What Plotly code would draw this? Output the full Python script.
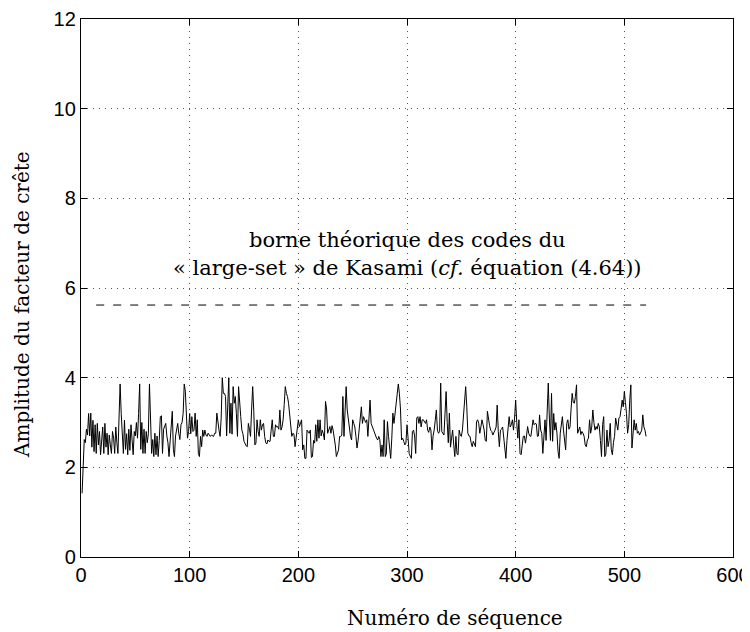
import plotly.graph_objects as go

# crest factor amplitude per sequence number
crest = [
    1.42, 2.05, 2.62, 2.55, 2.85, 2.72, 3.2, 2.7, 3.21, 2.45,
    3.05, 2.35, 2.95, 2.31, 2.98, 2.5, 2.8, 2.28, 2.7, 2.9,
    2.31, 2.98, 2.45, 2.76, 2.28, 2.72, 2.5, 2.31, 2.8, 2.65,
    2.31, 2.9, 2.55, 2.31, 3.1, 3.86, 3.2, 2.65, 2.31, 3.05,
    2.4, 2.75, 2.28, 2.85, 2.38, 2.95, 2.6, 2.28, 2.8, 2.7,
    3.0, 2.65, 3.2, 3.86, 2.4, 3.0, 2.31, 2.85, 2.31, 2.8,
    2.55, 2.75, 3.86, 3.06, 2.31, 2.62, 2.24, 2.76, 2.28, 2.7,
    2.24, 2.6, 3.13, 3.15, 2.31, 2.85, 2.9, 2.98, 2.7, 2.55,
    2.24, 2.6, 2.85, 3.25, 2.4, 2.24, 2.7, 2.9, 2.98, 2.75,
    2.62, 2.95, 3.0, 3.2, 3.86, 3.7, 3.3, 2.65, 2.8, 3.2,
    2.75, 3.13, 2.8, 2.83, 3.21, 2.69, 3.06, 2.31, 2.24, 2.69,
    2.46, 2.83, 2.69, 2.83, 2.72, 2.69, 2.76, 2.72, 2.69, 2.72,
    2.70, 2.69, 2.76, 2.76, 3.21, 2.95, 2.83, 2.69, 3.1, 4.0,
    3.65, 3.65, 3.58, 2.7, 3.3, 4.0, 2.76, 3.43, 2.74, 3.8,
    3.43, 3.58, 3.2, 2.69, 3.8, 3.35, 3.13, 2.83, 2.75, 2.58,
    2.52, 2.48, 2.46, 2.98, 2.85, 2.69, 3.3, 3.8, 3.25, 2.5,
    2.54, 3.06, 2.8, 2.69, 3.06, 2.83, 2.95, 2.98, 2.69, 2.55,
    2.52, 2.61, 2.58, 2.58, 2.83, 3.06, 2.69, 2.69, 2.95, 2.9,
    2.91, 2.85, 3.28, 2.83, 2.9, 3.06, 3.4, 3.8, 3.65, 3.58,
    3.43, 3.2, 3.06, 2.69, 2.76, 2.74, 2.46, 2.69, 2.8, 3.06,
    2.91, 2.98, 3.06, 2.39, 2.5, 2.2, 2.2, 2.83, 2.8, 2.76,
    2.83, 2.22, 2.24, 2.6, 2.54, 2.95, 2.58, 3.06, 2.65, 3.06,
    2.7, 2.83, 2.75, 2.61, 3.47, 3.3, 2.76, 2.85, 2.91, 2.76,
    2.93, 2.83, 2.69, 2.5, 2.24, 2.3, 2.39, 2.69, 2.69, 2.72,
    3.58, 2.69, 3.2, 3.8, 3.28, 3.06, 2.83, 2.69, 2.61, 3.06,
    2.98, 2.9, 2.69, 2.43, 2.6, 2.83, 3.1, 3.35, 2.98, 3.13,
    3.06, 3.0, 3.06, 2.69, 3.1, 3.5, 2.98, 2.91, 2.83, 2.76,
    2.69, 2.65, 2.61, 2.69, 2.62, 2.24, 2.5, 2.24, 3.06, 2.24,
    2.3, 3.02, 2.69, 2.5, 2.2, 2.65, 3.21, 2.98, 3.2, 3.35,
    3.6, 3.86, 3.65, 3.3, 2.61, 2.65, 2.58, 2.5, 2.54, 2.95,
    2.65, 2.31, 2.25, 2.2, 2.8, 2.83, 2.7, 2.31, 3.1, 3.13,
    2.98, 3.13, 2.9, 3.06, 3.06, 3.02, 2.98, 3.06, 2.83, 2.78,
    2.9, 2.83, 2.39, 2.7, 2.83, 3.05, 3.28, 2.83, 2.76, 2.8,
    3.88, 2.8, 2.75, 2.72, 3.2, 3.69, 3.0, 2.55, 3.21, 2.45,
    2.65, 2.83, 2.5, 2.24, 2.69, 2.3, 2.28, 2.83, 2.72, 2.69,
    2.83, 3.13, 3.5, 3.8, 3.35, 2.76, 2.7, 2.69, 2.55, 2.46,
    2.58, 2.5, 2.46, 3.02, 3.06, 2.98, 2.76, 2.9, 3.06, 2.95,
    2.83, 2.6, 2.58, 3.25, 3.06, 2.93, 2.83, 2.8, 2.72, 2.76,
    2.83, 2.9, 3.39, 2.8, 2.46, 2.83, 2.85, 2.9, 2.65, 2.5,
    2.2, 2.6, 2.9, 3.13, 2.9, 2.95, 3.06, 2.83, 3.1, 3.5,
    3.0, 2.65, 3.06, 2.31, 2.28, 2.55, 2.69, 2.7, 2.54, 2.7,
    2.91, 2.76, 2.7, 2.69, 2.9, 3.06, 2.95, 2.98, 2.97, 2.69,
    2.7, 3.17, 2.83, 2.76, 2.31, 2.61, 3.06, 2.6, 3.3, 3.88,
    3.1, 2.6, 3.65, 2.58, 3.2, 2.83, 3.0, 2.76, 2.35, 2.2,
    2.76, 3.0, 3.13, 2.83, 2.6, 2.39, 2.98, 3.06, 2.85, 2.9,
    3.3, 3.65, 3.45, 3.43, 3.58, 3.84, 2.76, 2.85, 2.9, 2.73,
    2.8, 2.76, 2.69, 2.5, 2.46, 2.61, 2.65, 3.06, 2.76, 2.9,
    3.28, 3.0, 2.83, 2.91, 2.85, 2.98, 2.9, 2.6, 2.24, 2.95,
    3.13, 2.24, 2.3, 2.83, 2.46, 2.6, 2.98, 2.39, 2.28, 2.56,
    2.69, 3.1, 2.98, 2.83, 3.1, 3.13, 3.3, 3.5, 3.35, 3.69,
    3.45, 3.2, 2.76, 2.95, 3.5, 3.84, 2.43, 2.9, 3.06, 2.83,
    2.98, 2.76, 2.8, 2.72, 2.76, 2.83, 3.17, 2.9, 2.83, 2.69,
]
seq = list(range(1, len(crest) + 1))

# theoretical bound (large-set Kasami)
bound_x = [14, 520]
bound_y = [5.62, 5.62]

x_ticks = [0, 100, 200, 300, 400, 500, 600]
y_ticks = [0, 2, 4, 6, 8, 10, 12]

serif = "DejaVu Serif"
sans = "Liberation Sans"

# plot box in the final picture: x 81..733, y 19..557 (page body adds ~8 px)
PW, PH = 652, 538

fig = go.Figure()
fig.add_trace(go.Scatter(x=seq, y=crest, mode="lines",
                         line=dict(color="black", width=1)))
fig.add_trace(go.Scatter(x=bound_x, y=bound_y, mode="lines",
                         line=dict(color="black", width=1, dash="8px,9px")))

fig.add_annotation(x=300, y=7.08, text="borne théorique des codes du",
                   showarrow=False, font=dict(family=serif, size=21, color="black"))
fig.add_annotation(x=300, y=6.45,
                   text="« large-set » de Kasami (<i>cf.</i> équation (4.64))",
                   showarrow=False, font=dict(family=serif, size=21, color="black"))

# axis titles, placed as in the original (slightly off-centre)
fig.add_annotation(x=(455 - 81) / PW, y=-61 / PH, xref="paper", yref="paper",
                   text="Numéro de séquence", showarrow=False,
                   xanchor="center", yanchor="middle",
                   font=dict(family=serif, size=20, color="black"))
fig.add_annotation(x=(22 - 81) / PW, y=(557 - 305) / PH, xref="paper", yref="paper",
                   text="Amplitude du facteur de crête", showarrow=False,
                   textangle=-90, xanchor="center", yanchor="middle",
                   font=dict(family=serif, size=20, color="black"))

axis_common = dict(
    showline=True, linecolor="black", linewidth=1.3, mirror="ticks",
    ticks="inside", ticklen=6, tickcolor="black",
    showgrid=True, gridcolor="#555555", gridwidth=1, griddash="1px,5px",
    zeroline=False, automargin=False, ticklabeloverflow="allow",
    tickfont=dict(family=sans, size=20, color="black"),
)

fig.update_xaxes(range=[0, 600], tickvals=x_ticks, **axis_common)
fig.update_yaxes(range=[0, 12], tickvals=y_ticks, **axis_common)

fig.update_layout(
    width=742, height=624,
    margin=dict(l=73, r=17, t=11, b=75, autoexpand=False),
    plot_bgcolor="white", paper_bgcolor="white",
    showlegend=False,
)

fig.write_html("out.html")
